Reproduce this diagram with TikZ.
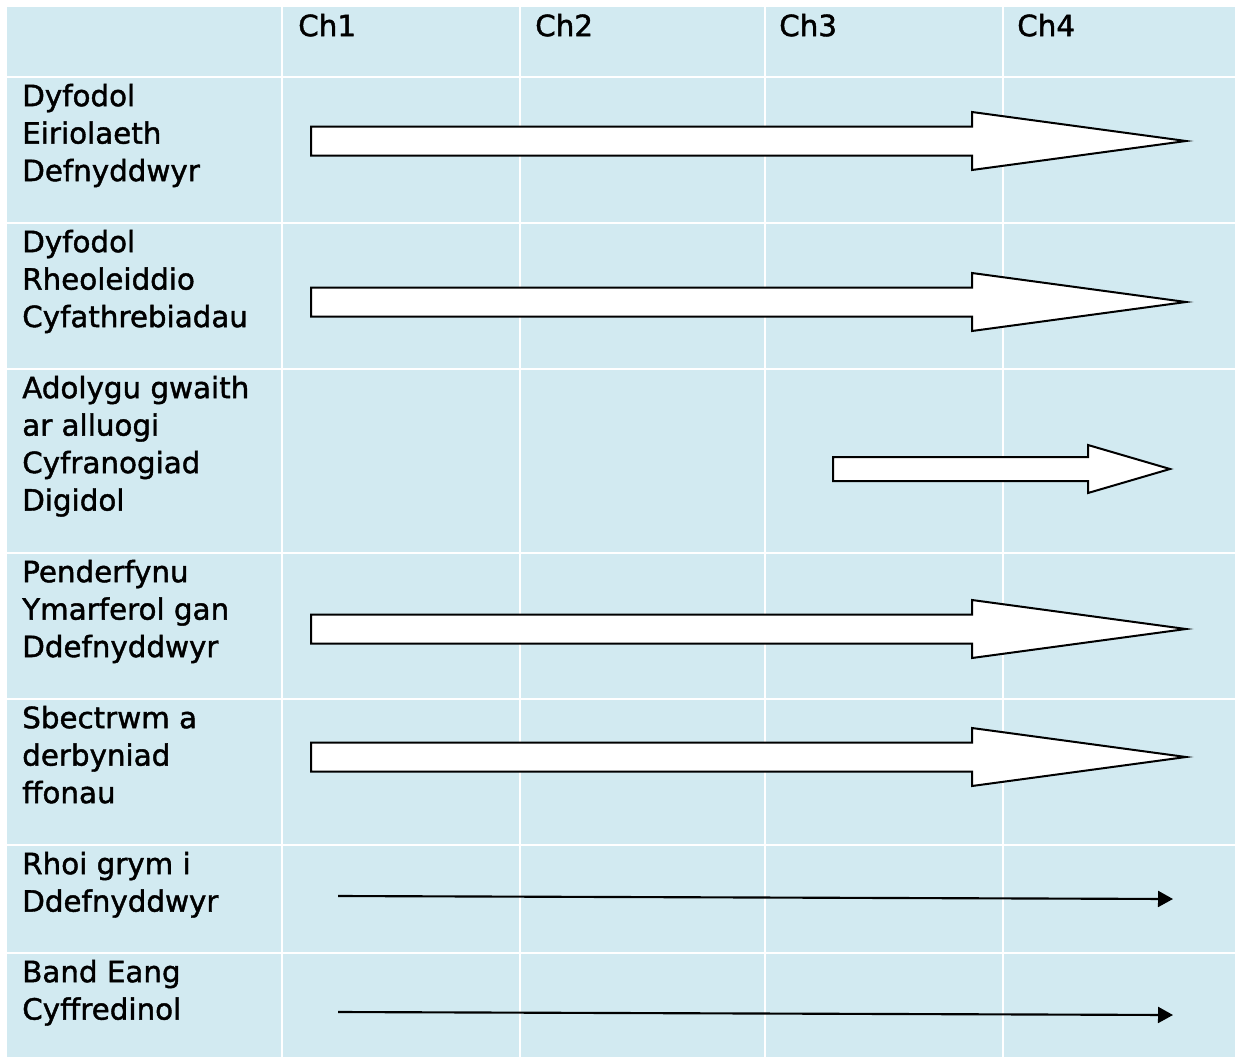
\documentclass[tikz,border=0pt]{standalone}
\usepackage{fontspec}
\setmainfont{DejaVu Sans}[BoldFont=DejaVu Sans,BoldFeatures={FakeBold=1.4}]
\usepackage{xcolor}
\usetikzlibrary{arrows.meta}
\definecolor{cellblue}{RGB}{210,234,241}

\begin{document}
\begin{tikzpicture}[x=0.75pt,y=-0.75pt,
  gridline/.style={white,line width=1.5pt},
  rowlabel/.style={anchor=north west,inner sep=0pt,align=left,font=\fontsize{22}{28.1}\selectfont\bfseries},
  blockarrow/.style={draw=black,fill=white,line width=1.5pt,line join=miter},
  linearrow/.style={line width=1.6pt,-{Triangle[length=11.25pt,width=12pt]}}]
  \useasboundingbox (0,0) rectangle (1235,1057);
  \fill[cellblue] (7,7) rectangle (1235,1057);
  \foreach \x in {282,520,765,1003}
    \draw[gridline] (\x,7) -- (\x,1057);
  \foreach \y in {77,223,369,553,699,845,953}
    \draw[gridline] (7,\y) -- (1235,\y);
  % column headers
  \node[rowlabel] (ch1) at (298,13.6) {Ch1};
  \node[rowlabel] (ch2) at (535,13.6) {Ch2};
  \node[rowlabel] (ch3) at (779,13.6) {Ch3};
  \node[rowlabel] (ch4) at (1017,13.6) {Ch4};
  % row labels
  \node[rowlabel] (eiriolaeth) at (22,83.6) {Dyfodol\\Eiriolaeth\\Defnyddwyr};
  \node[rowlabel] (rheoleiddio) at (22,229.6) {Dyfodol\\Rheoleiddio\\Cyfathrebiadau};
  \node[rowlabel] (cyfranogiad) at (22,375.6) {Adolygu gwaith\\ar alluogi\\Cyfranogiad\\Digidol};
  \node[rowlabel] (penderfynu) at (22,559.6) {Penderfynu\\Ymarferol gan\\Ddefnyddwyr};
  \node[rowlabel] (sbectrwm) at (22,705.6) {Sbectrwm a\\derbyniad\\ffonau};
  \node[rowlabel] (grym) at (22,851.6) {Rhoi grym i\\Ddefnyddwyr};
  \node[rowlabel] (bandeang) at (22,959.6) {Band Eang\\Cyffredinol};
  % block arrows
  \foreach \c in {141,302,629,757}
    \draw[blockarrow] (311,\c-14.5) -- (972,\c-14.5) -- (972,\c-29) -- (1186,\c)
      -- (972,\c+29) -- (972,\c+14.5) -- (311,\c+14.5) -- cycle;
  \draw[blockarrow] (833,457) -- (1088,457) -- (1088,445) -- (1170,469)
    -- (1088,493) -- (1088,481) -- (833,481) -- cycle;
  % thin arrows
  \coordinate (grymstart) at (338,896);
  \coordinate (grymend) at (1173,899);
  \coordinate (bandstart) at (338,1012);
  \coordinate (bandend) at (1173,1015);
  \draw[linearrow] (grymstart) -- (grymend);
  \draw[linearrow] (bandstart) -- (bandend);
\end{tikzpicture}
\end{document}
